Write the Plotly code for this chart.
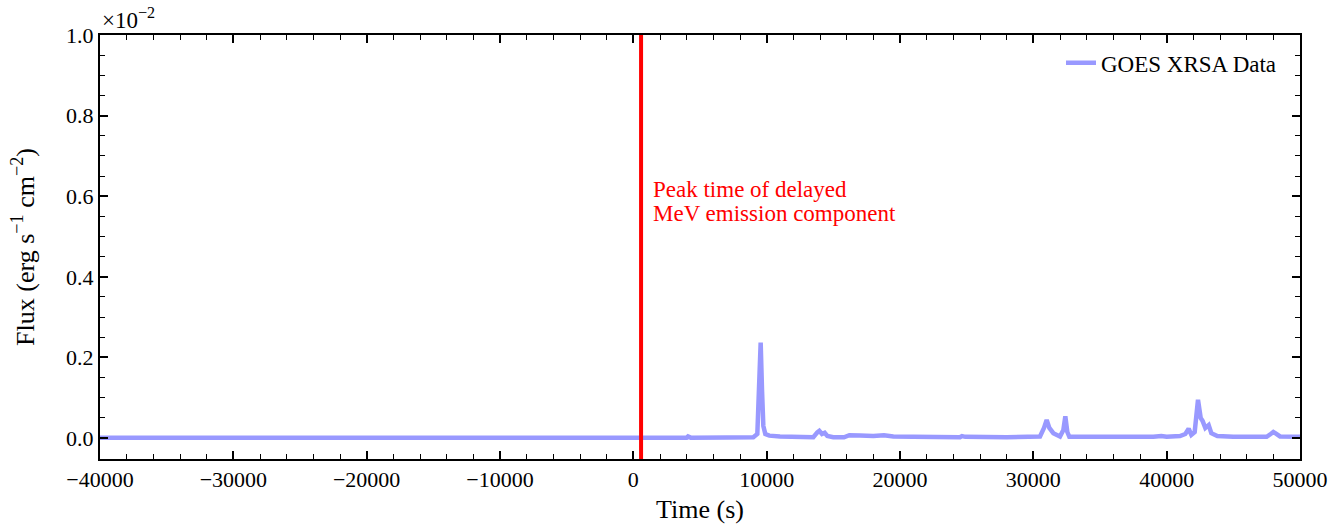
import plotly.graph_objects as go

# Time (s) relative to reference
time_s = [-40000, -30000, -20000, -16500, -15000, -10000, -8000, -5000, -2000, -1700,
          -1200, -800, 0, 2000, 4000, 4100, 4300, 7000, 9000, 9300,
          9450, 9550, 9650, 9750, 9900, 10200, 11000, 13500, 13800, 13950,
          14150, 14350, 14550, 15000, 15800, 16200, 17000, 18000, 18800, 19500,
          21000, 23000, 24500, 24650, 24900, 28000, 30500, 30800, 31000, 31200,
          31500, 32000, 32250, 32400, 32550, 32700, 35000, 39000, 39600, 40000,
          41000, 41400, 41650, 41850, 42100, 42350, 42550, 42700, 42900, 43150,
          43350, 43800, 45000, 47500, 47800, 48000, 48200, 48500, 50000]
# Flux in units of 1e-2 erg s^-1 cm^-2
flux_e2 = [0.0005, 0.0005, 0.0008, 0.0015, 0.0008, 0.0015, 0.0008, 0.0006, 0.0012, 0.0025,
           0.0015, 0.002, 0.001, 0.0008, 0.001, 0.004, 0.001, 0.0015, 0.002, 0.01,
           0.12, 0.237, 0.12, 0.03, 0.01, 0.006, 0.004, 0.002, 0.014, 0.018,
           0.01, 0.013, 0.005, 0.002, 0.002, 0.007, 0.006, 0.005, 0.007, 0.004,
           0.003, 0.002, 0.002, 0.005, 0.003, 0.002, 0.004, 0.025, 0.045, 0.025,
           0.012, 0.004, 0.02, 0.054, 0.015, 0.003, 0.002, 0.003, 0.005, 0.003,
           0.005, 0.01, 0.023, 0.008, 0.015, 0.095, 0.05, 0.042, 0.025, 0.032,
           0.012, 0.005, 0.003, 0.003, 0.01, 0.015, 0.011, 0.004, 0.003]

peak_time = 580
note_lines = ["Peak time of delayed", "MeV emission component"]
note_y = [0.617, 0.558]
x_range = [-40000, 50000]
y_range = [-0.052, 1.0]
x_ticks = [-40000, -30000, -20000, -10000, 0, 10000, 20000, 30000, 40000, 50000]
y_ticks = [0.0, 0.2, 0.4, 0.6, 0.8, 1.0]

FONT = "Liberation Serif"
fig = go.Figure()
fig.add_trace(go.Scatter(x=time_s, y=flux_e2, mode="lines", name="GOES XRSA Data",
                         line=dict(color="rgb(153,153,255)", width=4.5)))
fig.add_shape(type="line", x0=peak_time, x1=peak_time, y0=0, y1=1, yref="paper",
              line=dict(color="red", width=4))
for txt, yy in zip(note_lines, note_y):
    fig.add_annotation(x=peak_time, y=yy, xref="x", yref="y", xanchor="left", yanchor="middle",
                       xshift=10, showarrow=False, align="left", text=txt,
                       font=dict(family=FONT, size=23, color="red"))
fig.add_annotation(x=0, y=1, xref="paper", yref="paper", xanchor="left", yanchor="bottom",
                   showarrow=False, yshift=0,
                   text="×10<sup>−2</sup>", font=dict(family=FONT, size=23, color="black"))

axis_common = dict(showgrid=False, zeroline=False, showline=True, linecolor="black",
                   linewidth=2, mirror="ticks", ticks="inside", ticklen=8, tickwidth=1.5,
                   tickcolor="black", tickfont=dict(family=FONT, size=22, color="black"))
fig.update_xaxes(range=x_range, tickvals=x_ticks, tickformat="d",
                 minor=dict(dtick=2000, tick0=0, ticks="inside", ticklen=5, tickwidth=1.2,
                            tickcolor="black"),
                 title=dict(text="Time (s)", font=dict(family=FONT, size=26, color="black"),
                            standoff=8),
                 **axis_common)
fig.update_yaxes(range=y_range, tickvals=y_ticks, tickformat=".1f",
                 minor=dict(dtick=0.05, tick0=0, ticks="inside", ticklen=5, tickwidth=1.2,
                            tickcolor="black"),
                 title=dict(text="Flux (erg s<sup>−1</sup> cm<sup>−2</sup>)",
                            font=dict(family=FONT, size=26, color="black"), standoff=24),
                 **axis_common)
fig.update_layout(width=1343, height=531, margin=dict(l=100, r=43, t=35, b=70),
                  plot_bgcolor="white", paper_bgcolor="white",
                  showlegend=True,
                  legend=dict(x=0.985, y=0.985, xanchor="right", yanchor="top",
                              bgcolor="rgba(0,0,0,0)", borderwidth=0,
                              font=dict(family=FONT, size=23, color="black")))
fig.write_html("out.html")
